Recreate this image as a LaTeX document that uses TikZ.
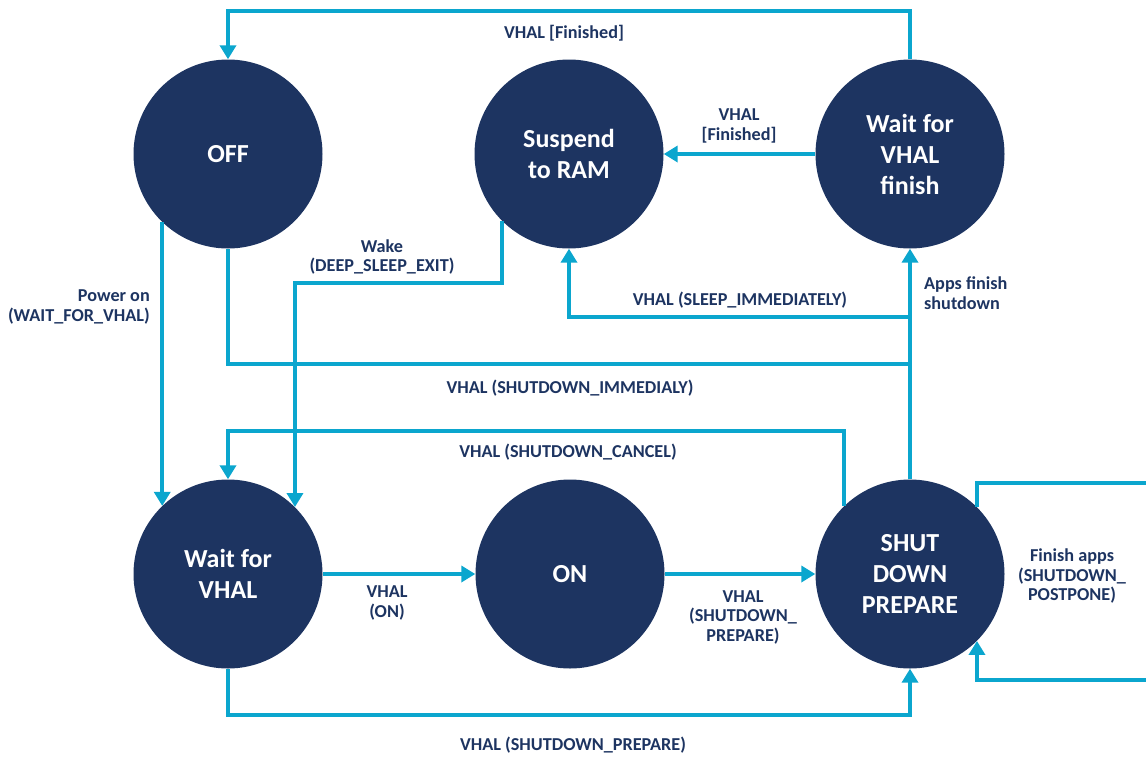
\documentclass[tikz,border=0pt]{standalone}
\usepackage{fontspec}
\setmainfont{Carlito}
\usetikzlibrary{arrows.meta}
\definecolor{statenavy}{HTML}{1D3461}
\definecolor{wirecyan}{HTML}{0BA6CE}

\begin{document}
\begin{tikzpicture}[x=1pt,y=-1pt,
  state/.style={circle,fill=statenavy,minimum size=189pt,inner sep=0pt,text=white,align=center,
    font=\bfseries\fontsize{26}{31}\selectfont},
  wire/.style={draw=wirecyan,line width=4pt},
  trans/.style={wire,-{Triangle[width=16pt,length=14pt]}},
  lbl/.style={text=statenavy,align=center,inner sep=0pt,font=\bfseries\fontsize{18.2}{19.5}\selectfont}]
\useasboundingbox (0,0) rectangle (1146,758);

\node[state] at (228,154) (off) {OFF};
\node[state] at (569,154) (suspend) {Suspend\\to RAM};
\node[state] at (910,154) (waitfinish) {Wait for\\VHAL\\finish};
\node[state] at (228,574) (waitvhal) {Wait for\\VHAL};
\node[state] at (570,574) (on) {ON};
\node[state] at (910,574) (prepare) {SHUT\\DOWN\\PREPARE};

\draw[trans] (waitfinish.north) |- (off.north |- 0,11) -- (off.north);
\draw[trans] (waitfinish.west) -- (suspend.east);
\draw[trans] (off.226) -- (waitvhal.134);
\draw[trans] (suspend.225) |- (waitvhal.45 |- 0,283) -- (waitvhal.45);
\draw[trans] (prepare.north) -- (waitfinish.south);
\draw[trans] (prepare.north) |- (suspend.south |- 0,317) -- (suspend.south);
\draw[wire] (prepare.north) |- (off.south |- 0,364) -- (off.south);
\draw[trans] (prepare.134) |- (waitvhal.north |- 0,431) -- (waitvhal.north);
\draw[trans] (waitvhal.east) -- (on.west);
\draw[trans] (on.east) -- (prepare.west);
\draw[trans] (waitvhal.south) |- (prepare.south |- 0,715) -- (prepare.south);
\draw[trans] (prepare.45) |- (1165,483) |- (prepare.315 |- 0,680) -- (prepare.315);

\node[lbl] at (564,33) (lfinished) {VHAL [Finished]};
\node[lbl] at (739,126) (lsuspend) {VHAL\\{}[Finished]};
\node[lbl,anchor=east,align=right] at (150,307) (lpoweron) {Power on\\(WAIT\_FOR\_VHAL)};
\node[lbl] at (382,257) (lwake) {Wake\\(DEEP\_SLEEP\_EXIT)};
\node[lbl] at (740,300) (lsleep) {VHAL (SLEEP\_IMMEDIATELY)};
\node[lbl,anchor=west,align=left] at (924,293) (lapps) {Apps finish\\shutdown};
\node[lbl] at (570,388) (limmed) {VHAL (SHUTDOWN\_IMMEDIALY)};
\node[lbl] at (568,452) (lcancel) {VHAL (SHUTDOWN\_CANCEL)};
\node[lbl] at (387,603) (lon) {VHAL\\(ON)};
\node[lbl] at (743,617) (lprepare) {VHAL\\(SHUTDOWN\_\\PREPARE)};
\node[lbl] at (573,745) (lprepare2) {VHAL (SHUTDOWN\_PREPARE)};
\node[lbl] at (1072,576) (lpostpone) {Finish apps\\(SHUTDOWN\_\\POSTPONE)};
\end{tikzpicture}
\end{document}
